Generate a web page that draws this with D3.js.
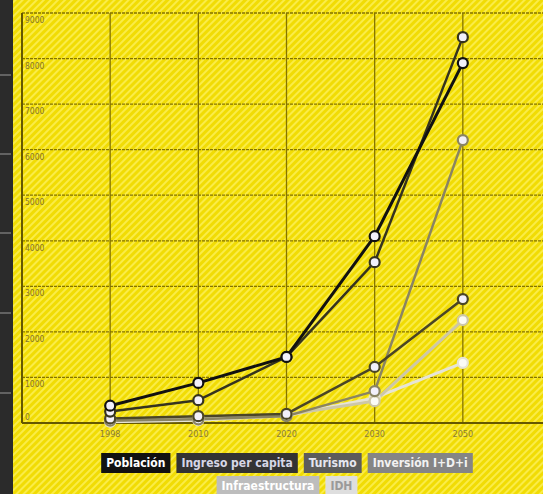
<!DOCTYPE html>
<html>
<head>
<meta charset="utf-8">
<script src="https://cdn.jsdelivr.net/npm/d3@7"></script>
<style>
  html, body { margin: 0; padding: 0; background: #2b2b2b; }
  svg { display: block; }
</style>
</head>
<body>
<div id="chart"></div>
<script>
// Data
var years = ["1998", "2010", "2020", "2030", "2050"];
var yTicks = [0, 1000, 2000, 3000, 4000, 5000, 6000, 7000, 8000, 9000];
var seriesNames = ["Población", "Ingreso per capita", "Turismo", "Inversión I+D+i", "Infraestructura", "IDH"];
var poblacion = [380, 880, 1450, 4100, 7900];
var ingreso = [250, 500, 1450, 3530, 8470];
var turismo = [100, 150, 200, 1230, 2720];
var inversion = [50, 80, 150, 700, 6210];
var infraestructura = [80, 120, 180, 480, 2260];
var idh = [30, 60, 160, 550, 1320];

// Look
var lineColors = ["#111111", "#35331f", "#4a4526", "#8a8462", "#cdc7a8", "#e6e4d8"];
var lineWidths = [3, 2.5, 2.5, 2.5, 3, 3];
var legendBg = ["#111111", "#333333", "#5c5c5c", "#858585", "#bdbdbd", "#dedede"];
var legendFg = ["#ffffff", "#d6d6e6", "#e6e6f0", "#f2f2f2", "#ffffff", "#9a9a9a"];

var width = 543, height = 494;
var margin = { top: 13, left: 22, bottom: 71 };
var allSeries = [poblacion, ingreso, turismo, inversion, infraestructura, idh];

var svg = d3.select("#chart").append("svg")
    .attr("width", width)
    .attr("height", height);

// Hatch pattern for the yellow background
var defs = svg.append("defs");
var pat = defs.append("pattern")
    .attr("id", "hatch")
    .attr("patternUnits", "userSpaceOnUse")
    .attr("width", 5)
    .attr("height", 5)
    .attr("patternTransform", "rotate(45)");
pat.append("rect").attr("width", 5).attr("height", 5).attr("fill", "#f1dc04");
pat.append("rect").attr("width", 2).attr("height", 5).attr("fill", "#faec48");

// Dark strip on the left
svg.append("rect")
    .attr("x", 0).attr("y", 0)
    .attr("width", 13).attr("height", height)
    .attr("fill", "#2b2b2b");
var stripMarks = [75, 154, 233, 313, 393];
svg.selectAll(".strip-mark")
    .data(stripMarks)
    .enter()
    .append("line")
    .attr("x1", 0).attr("x2", 11)
    .attr("y1", function(d) { return d; })
    .attr("y2", function(d) { return d; })
    .attr("stroke", "#9a9a9a")
    .attr("stroke-width", 1);

// Yellow background
svg.append("rect")
    .attr("x", 13).attr("y", 0)
    .attr("width", width - 13).attr("height", height)
    .attr("fill", "url(#hatch)");

// Scales
var x = d3.scalePoint()
    .domain(years)
    .range([margin.left, 551])
    .padding(1);
var y = d3.scaleLinear()
    .domain([0, 9000])
    .range([423, margin.top]);

// Grid
var grid = svg.append("g");
grid.selectAll(".hgrid")
    .data(yTicks)
    .enter()
    .append("line")
    .attr("x1", margin.left).attr("x2", width)
    .attr("y1", function(d) { return y(d); })
    .attr("y2", function(d) { return y(d); })
    .attr("stroke", "#857400")
    .attr("stroke-width", 1.3)
    .attr("stroke-dasharray", "3,1");
grid.selectAll(".vgrid")
    .data(years)
    .enter()
    .append("line")
    .attr("x1", function(d) { return x(d); })
    .attr("x2", function(d) { return x(d); })
    .attr("y1", margin.top).attr("y2", y(0))
    .attr("stroke", "#857400")
    .attr("stroke-width", 1.3);
// Left axis
grid.append("line")
    .attr("x1", margin.left).attr("x2", margin.left)
    .attr("y1", margin.top).attr("y2", y(0))
    .attr("stroke", "#655800")
    .attr("stroke-width", 2);
grid.append("line")
    .attr("x1", margin.left).attr("x2", width)
    .attr("y1", y(0)).attr("y2", y(0))
    .attr("stroke", "#655800")
    .attr("stroke-width", 1.8);

// Y labels (inside, under each gridline)
svg.selectAll(".ylabel")
    .data(yTicks)
    .enter()
    .append("text")
    .attr("x", margin.left + 3)
    .attr("y", function(d) { return d === 0 ? y(d) - 3 : y(d) + 10; })
    .style("font-family", "'Liberation Sans Narrow', 'DejaVu Sans Condensed', sans-serif")
    .style("font-size", "8.5px")
    .attr("fill", "#84742a")
    .text(function(d) { return d; });

// X labels
svg.selectAll(".xlabel")
    .data(years)
    .enter()
    .append("text")
    .attr("x", function(d) { return x(d); })
    .attr("y", 437)
    .attr("text-anchor", "middle")
    .style("font-family", "'Liberation Sans Narrow', 'DejaVu Sans Condensed', sans-serif")
    .style("font-size", "9px")
    .attr("fill", "#8a7b3c")
    .text(function(d) { return d; });

// Lines, drawn from lightest to darkest
var line = d3.line()
    .x(function(d, i) { return x(years[i]); })
    .y(function(d) { return y(d); });
var order = [5, 4, 3, 2, 1, 0];
order.forEach(function(k) {
    svg.append("path")
        .attr("d", line(allSeries[k]))
        .attr("fill", "none")
        .attr("stroke", lineColors[k])
        .attr("stroke-width", lineWidths[k])
        .attr("stroke-linejoin", "round");
});
order.forEach(function(k) {
    svg.selectAll(".pt" + k)
        .data(allSeries[k])
        .enter()
        .append("circle")
        .attr("cx", function(d, i) { return x(years[i]); })
        .attr("cy", function(d) { return y(d); })
        .attr("r", 5)
        .attr("fill", k < 4 ? "#f2f0fa" : "#fbfbf6")
        .attr("stroke", lineColors[k])
        .attr("stroke-width", 2.2);
});

// Legend
var legendRows = [[0, 1, 2, 3], [4, 5]];
var legendY = [453, 476];
var legendFont = "'Liberation Sans Narrow', 'DejaVu Sans Condensed', sans-serif";
legendRows.forEach(function(row, r) {
    var g = svg.append("g");
    var items = row.map(function(k) {
        var t = g.append("text")
            .style("font-family", legendFont)
            .style("font-size", "12px")
            .style("font-weight", "bold")
            .text(seriesNames[k]);
        var w = t.node().getComputedTextLength();
        t.remove();
        return { k: k, w: w + 10 };
    });
    var gap = 6;
    var total = d3.sum(items, function(d) { return d.w; }) + gap * (items.length - 1);
    var cx = 287 - total / 2;
    items.forEach(function(it) {
        g.append("rect")
            .attr("x", cx).attr("y", legendY[r])
            .attr("width", it.w).attr("height", 20)
            .attr("fill", legendBg[it.k]);
        g.append("text")
            .attr("x", cx + it.w / 2)
            .attr("y", legendY[r] + 14)
            .attr("text-anchor", "middle")
            .style("font-family", legendFont)
            .style("font-size", "12px")
            .style("font-weight", "bold")
            .attr("fill", legendFg[it.k])
            .text(seriesNames[it.k]);
        cx += it.w + gap;
    });
});
</script>
</body>
</html>
